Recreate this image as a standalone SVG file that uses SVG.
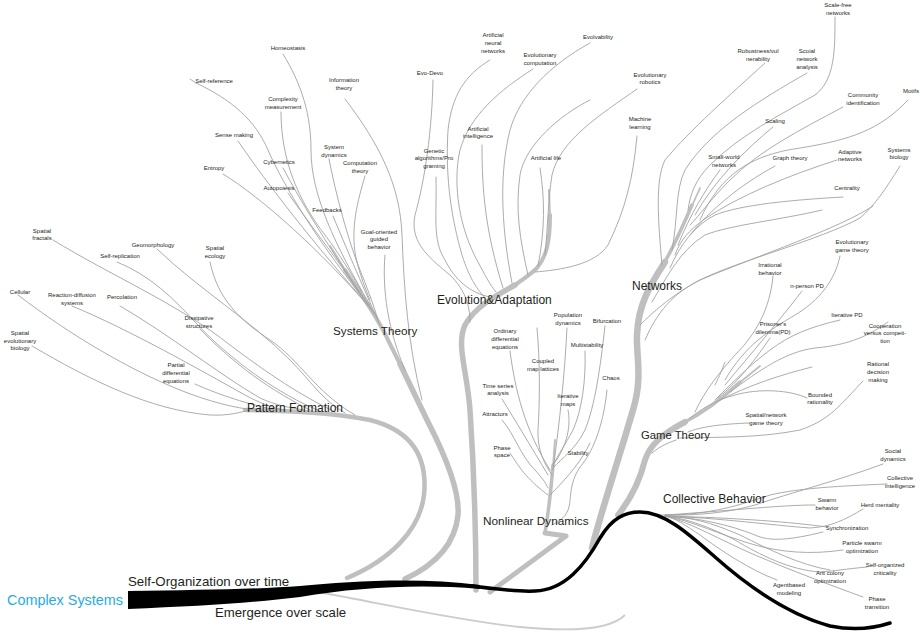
<svg xmlns="http://www.w3.org/2000/svg" width="920" height="633" viewBox="0 0 920 633">
<style>
text{font-family:"Liberation Sans",Arial,sans-serif;fill:#231f20}
.s{font-size:6px;text-anchor:middle}
.b{font-size:12px}
.leaf{fill:none;stroke:#a3a3a3;stroke-width:0.9;stroke-linecap:round}
.br{fill:none;stroke:#bfbfbf;stroke-linecap:round;stroke-linejoin:round}
</style>
<rect width="920" height="633" fill="#fff"/>
<g id="connectors">
<path d="M318,592 C 390,605 455,620 520,627 C 570,632 610,630 625,615" fill="none" stroke="#cccccc" stroke-width="1.8"/>
<path class="br" stroke-width="4.5" d="M347,578 C 390,560 420,530 424,495 C 428,455 410,430 370,420 C 330,412 285,411 245,410"/>
<path class="br" stroke-width="5.5" d="M405,579 C 435,565 455,545 458,515 C 460,490 445,455 428,422 L 400,364"/>
<path class="br" stroke-width="4" d="M402,368 L 388,340 C 378,318 362,296 345,270"/>
<path class="br" stroke-width="2" d="M348,275 C 342,265 336,255 330,246"/>
<path class="br" stroke-width="5.5" d="M476,590 C 476,530 474,470 470,410 C 467,370 456,345 465,325 C 475,307 495,296 515,285"/>
<path class="br" stroke-width="4" d="M512,287 C 522,280 530,275 537,268 C 547,256 550,240 550,215"/>
<path class="br" stroke-width="2" d="M550,218 L 549,190"/>
<path class="br" stroke-width="5" d="M490,592 L 566,536 L 545,533"/>
<path class="br" stroke-width="3.5" d="M545,533 C 548,515 551,490 553,465"/>
<path class="br" stroke-width="2" d="M553,468 L 555,440"/>
<path class="br" stroke-width="6.5" d="M592,548 C 600,515 620,455 633,410 C 643,378 636,355 637,335 C 638,305 650,285 665,262"/>
<path class="br" stroke-width="3.5" d="M663,265 C 672,250 682,228 692,205"/>
<path class="br" stroke-width="1.8" d="M691,208 L 700,188"/>
<path class="br" stroke-width="6" d="M618,515 C 630,500 640,480 645,460 C 650,445 662,434 685,422"/>
<path class="br" stroke-width="3.5" d="M683,423 C 705,412 725,396 740,382"/>
<path class="br" stroke-width="1.8" d="M738,384 L 760,366"/>
<path class="leaf" d="M283,54 C 302,85 311,115 311,150 C 311,195 335,245 370,305"/>
<path class="leaf" d="M190,79 L196,83 C 232,100 255,120 268,150 C 283,185 320,245 365,300"/>
<path class="leaf" d="M281,112 C 281,160 298,200 325,235 C 340,255 352,275 362,292"/>
<path class="leaf" d="M238,141 C 268,185 315,245 368,305"/>
<path class="leaf" d="M283,168 C 300,200 330,250 372,310"/>
<path class="leaf" d="M223,174 C 262,198 320,250 370,308"/>
<path class="leaf" d="M288,193 C 310,225 342,265 375,315"/>
<path class="leaf" d="M329,159 C 336,195 348,240 360,270 C 366,285 372,300 378,320"/>
<path class="leaf" d="M365,176 C 358,200 350,228 356,258 C 360,275 365,288 370,300"/>
<path class="leaf" d="M333,216 C 345,245 360,280 380,325"/>
<path class="leaf" d="M345,99 C 380,145 400,185 402,235 C 404,290 408,345 422,400"/>
<path class="leaf" d="M385,255 C 382,290 388,330 405,370"/>
<path class="leaf" d="M53,240 C 110,275 180,305 230,345 C 270,375 300,395 335,412"/>
<path class="leaf" d="M157,249 C 200,290 250,320 290,360 C 310,380 322,400 345,413"/>
<path class="leaf" d="M117,262 C 150,275 175,300 195,322 C 230,360 280,395 320,411"/>
<path class="leaf" d="M210,262 C 218,300 240,320 270,340 C 300,360 315,392 355,415"/>
<path class="leaf" d="M18,295 C 70,335 130,370 180,390 C 210,402 235,408 255,410"/>
<path class="leaf" d="M72,306 C 130,330 200,370 245,395 C 260,403 272,408 285,410"/>
<path class="leaf" d="M120,306 C 170,335 220,375 260,398 C 275,405 290,408 305,410"/>
<path class="leaf" d="M200,329 C 225,355 260,385 310,410"/>
<path class="leaf" d="M32,346 C 90,380 150,410 210,415 C 230,416 240,412 250,410"/>
<path class="leaf" d="M195,384 C 215,393 240,402 275,410"/>
<path class="leaf" d="M433,80 C 432,130 425,180 415,215 C 410,240 425,255 450,275 C 465,290 470,305 470,322"/>
<path class="leaf" d="M490,60 C 465,75 452,95 448,130 C 445,180 452,220 462,255 C 470,280 478,290 485,298"/>
<path class="leaf" d="M533,69 C 500,90 470,115 460,150 C 452,185 460,230 478,262 C 485,275 490,285 496,292"/>
<path class="leaf" d="M590,43 C 550,65 520,95 510,130 C 500,170 500,220 512,283"/>
<path class="leaf" d="M482,145 C 482,190 485,230 503,288"/>
<path class="leaf" d="M436,177 C 437,215 432,240 445,260 C 455,280 470,293 490,297"/>
<path class="leaf" d="M590,100 C 560,115 525,145 520,175 C 515,210 520,240 528,275"/>
<path class="leaf" d="M637,89 C 600,115 560,140 552,175 C 548,200 548,225 545,255"/>
<path class="leaf" d="M540,168 C 545,200 545,230 538,266"/>
<path class="leaf" d="M637,136 C 633,180 625,210 608,245 C 595,265 560,270 535,272"/>
<path class="leaf" d="M835,17 C 835,50 835,80 815,95 C 780,115 740,135 710,165 C 695,180 690,195 688,210"/>
<path class="leaf" d="M765,63 C 730,95 690,130 665,160 C 655,180 658,220 662,265"/>
<path class="leaf" d="M807,73 C 760,100 710,130 685,170 C 675,190 678,220 672,250"/>
<path class="leaf" d="M843,107 C 800,130 760,150 730,180 C 710,200 700,215 690,225"/>
<path class="leaf" d="M908,100 C 880,130 850,140 800,148 C 750,155 720,175 700,220"/>
<path class="leaf" d="M773,127 C 745,150 715,180 695,215"/>
<path class="leaf" d="M720,170 C 705,190 690,215 678,245"/>
<path class="leaf" d="M775,166 C 740,185 710,210 690,235"/>
<path class="leaf" d="M837,160 C 790,175 740,195 703,220 C 690,230 680,240 675,255"/>
<path class="leaf" d="M843,197 C 790,200 740,205 715,215 C 695,225 680,245 670,268"/>
<path class="leaf" d="M822,210 C 780,220 730,225 705,235 C 680,250 665,280 652,302"/>
<path class="leaf" d="M900,166 C 885,190 875,205 860,218 C 820,240 740,260 700,280 C 675,293 655,310 640,325"/>
<path class="leaf" d="M873,206 C 840,228 760,255 700,280 C 680,290 660,305 645,340"/>
<path class="leaf" d="M840,256 C 835,280 820,300 795,315 C 770,330 745,345 725,380"/>
<path class="leaf" d="M773,276 C 770,310 755,335 735,355 C 720,372 705,390 695,412"/>
<path class="leaf" d="M802,291 C 780,320 750,355 725,385"/>
<path class="leaf" d="M770,338 C 755,360 740,380 718,398"/>
<path class="leaf" d="M840,320 C 810,327 790,335 770,350 C 750,365 735,380 715,400"/>
<path class="leaf" d="M888,322 C 870,335 850,345 815,348 C 785,352 760,370 730,392"/>
<path class="leaf" d="M812,367 C 780,375 750,385 720,400"/>
<path class="leaf" d="M863,381 C 840,405 830,420 800,430 C 760,438 720,437 680,438"/>
<path class="leaf" d="M807,398 C 790,390 760,388 735,395 C 715,400 700,410 690,418"/>
<path class="leaf" d="M750,423 C 720,424 700,427 688,432"/>
<path class="leaf" d="M652,453 C 660,446 668,443 676,440"/>
<path class="leaf" d="M715,385 C 720,375 722,370 725,362"/>
<path class="leaf" d="M883,464 C 840,480 790,493 755,505 C 730,512 700,516 660,515"/>
<path class="leaf" d="M887,484 C 840,486 800,488 770,495 C 740,505 710,515 665,515"/>
<path class="leaf" d="M815,505 C 780,505 740,510 665,515"/>
<path class="leaf" d="M863,509 C 845,520 830,527 810,528 C 770,525 720,518 665,516"/>
<path class="leaf" d="M827,527 C 790,522 740,518 665,516"/>
<path class="leaf" d="M823,532 C 790,540 770,542 755,535 C 730,525 700,518 665,516"/>
<path class="leaf" d="M843,550 C 810,555 780,552 755,545 C 720,535 690,520 665,516"/>
<path class="leaf" d="M867,567 C 845,569 835,571 820,572 C 790,570 760,555 735,540 C 710,527 685,518 665,516"/>
<path class="leaf" d="M830,570 C 800,565 770,550 740,535 C 710,522 690,517 665,516"/>
<path class="leaf" d="M777,580 C 750,570 720,550 700,535 C 685,525 675,518 665,516"/>
<path class="leaf" d="M863,597 C 830,585 790,570 755,555 C 720,540 690,522 665,516"/>
<path class="leaf" d="M567,328 C 565,370 560,420 553,470"/>
<path class="leaf" d="M605,326 C 600,370 595,405 585,430 C 575,450 562,458 553,468"/>
<path class="leaf" d="M510,351 C 515,390 525,430 550,470"/>
<path class="leaf" d="M585,351 C 586,380 582,410 573,430 C 565,445 558,455 553,465"/>
<path class="leaf" d="M537,328 C 540,360 540,400 538,430 C 537,450 545,465 552,475"/>
<path class="leaf" d="M607,390 C 604,420 595,450 580,467 C 568,485 572,500 568,510 C 565,518 558,522 552,525"/>
<path class="leaf" d="M502,399 C 515,420 530,445 548,475"/>
<path class="leaf" d="M568,410 C 571,425 568,445 553,465"/>
<path class="leaf" d="M502,420 C 515,435 520,455 535,470 C 542,478 546,483 548,488"/>
<path class="leaf" d="M510,453 C 518,465 525,478 548,495"/>
<path class="leaf" d="M590,443 C 582,460 570,475 550,495"/>
<path d="M128,591 C 200,590 260,589 300,586 C 350,581 420,577 480,585 L 480,589 C 420,584 360,587 300,597 C 250,603 200,606 128,609 Z" fill="#000"/>
<path d="M472,586 C 495,589 515,592 535,591 C 565,590 585,565 600,538 C 612,518 625,512 640,512 C 665,512 690,535 715,557 C 750,588 790,615 830,626 C 855,631 875,628 890,623" fill="none" stroke="#000" stroke-width="3.5" stroke-linecap="round"/>
</g>
<g id="complex-systems"><text x="7" y="605" style="font-size:14.4px;fill:#29abe2">Complex Systems</text></g>
<g id="self-organization"><text x="128" y="586" style="font-size:13.3px">Self-Organization over time</text></g>
<g id="emergence"><text x="215" y="617" style="font-size:13.2px">Emergence over scale</text></g>
<g id="pattern-formation"><text class="b" x="247" y="412">Pattern Formation</text></g>
<g id="systems-theory"><text class="b" x="333" y="335" style="font-size:11.7px">Systems Theory</text></g>
<g id="evolution-adaptation"><text class="b" x="437" y="304">Evolution&amp;Adaptation</text></g>
<g id="networks"><text class="b" x="632" y="290">Networks</text></g>
<g id="game-theory"><text class="b" x="641" y="439" style="font-size:11.3px">Game Theory</text></g>
<g id="collective-behavior"><text class="b" x="663" y="503">Collective Behavior</text></g>
<g id="nonlinear-dynamics"><text class="b" x="483" y="525" style="font-size:11.8px">Nonlinear Dynamics</text></g>
<g id="homeostasis"><text class="s" x="288" y="50">Homeostasis</text></g>
<g id="self-reference"><text class="s" x="214" y="83">Self-reference</text></g>
<g id="complexity-measurement"><text class="s" x="283" y="101">Complexity</text><text class="s" x="283" y="109">measurement</text></g>
<g id="sense-making"><text class="s" x="234" y="137">Sense making</text></g>
<g id="cybernetics"><text class="s" x="279" y="164">Cybernetics</text></g>
<g id="entropy"><text class="s" x="214" y="170">Entropy</text></g>
<g id="autopoiesis"><text class="s" x="279" y="190">Autopoiesis</text></g>
<g id="information-theory"><text class="s" x="344" y="82">Information</text><text class="s" x="344" y="90">theory</text></g>
<g id="system-dynamics"><text class="s" x="334" y="149">System</text><text class="s" x="334" y="157">dynamics</text></g>
<g id="computation-theory"><text class="s" x="360" y="165">Computation</text><text class="s" x="360" y="173">theory</text></g>
<g id="feedbacks"><text class="s" x="327" y="212">Feedbacks</text></g>
<g id="goal-oriented"><text class="s" x="379" y="234">Goal-oriented</text><text class="s" x="379" y="241">guided</text><text class="s" x="379" y="249">behavior</text></g>
<g id="evo-devo"><text class="s" x="430" y="75">Evo-Devo</text></g>
<g id="ann"><text class="s" x="493" y="37">Artificial</text><text class="s" x="493" y="45">neural</text><text class="s" x="493" y="53">networks</text></g>
<g id="evolutionary-computation"><text class="s" x="540" y="57">Evolutionary</text><text class="s" x="540" y="65">computation</text></g>
<g id="evolvability"><text class="s" x="598" y="39">Evolvability</text></g>
<g id="artificial-intelligence"><text class="s" x="478" y="131">Artificial</text><text class="s" x="478" y="138">intelligence</text></g>
<g id="genetic-algorithms"><text class="s" x="434" y="153">Genetic</text><text class="s" x="434" y="160">algorithms/Pro</text><text class="s" x="434" y="168">graming</text></g>
<g id="artificial-life"><text class="s" x="546" y="160">Artificial life</text></g>
<g id="evolutionary-robotics"><text class="s" x="650" y="77">Evolutionary</text><text class="s" x="650" y="84">robotics</text></g>
<g id="machine-learning"><text class="s" x="640" y="121">Machine</text><text class="s" x="640" y="129">learning</text></g>
<g id="scale-free"><text class="s" x="838" y="7">Scale-free</text><text class="s" x="838" y="15">networks</text></g>
<g id="robustness"><text class="s" x="758" y="53">Robustness/vul</text><text class="s" x="758" y="61">nerability</text></g>
<g id="social-network"><text class="s" x="807" y="53">Scoial</text><text class="s" x="807" y="61">network</text><text class="s" x="807" y="69">analysis</text></g>
<g id="community"><text class="s" x="863" y="97">Community</text><text class="s" x="863" y="105">identification</text></g>
<g id="motifs"><text class="s" x="911" y="93">Motifs</text></g>
<g id="scaling"><text class="s" x="775" y="123">Scaling</text></g>
<g id="small-world"><text class="s" x="724" y="159">Small-world</text><text class="s" x="724" y="167">networks</text></g>
<g id="graph-theory"><text class="s" x="790" y="160">Graph theory</text></g>
<g id="adaptive-networks"><text class="s" x="850" y="154">Adaptive</text><text class="s" x="850" y="161">networks</text></g>
<g id="systems-biology"><text class="s" x="899" y="152">Systems</text><text class="s" x="899" y="159">biology</text></g>
<g id="centrality"><text class="s" x="847" y="190">Centrality</text></g>
<g id="evolutionary-game-theory"><text class="s" x="852" y="244">Evolutionary</text><text class="s" x="852" y="252">game theory</text></g>
<g id="irrational-behavior"><text class="s" x="770" y="267">Irrational</text><text class="s" x="770" y="275">behavior</text></g>
<g id="n-person-pd"><text class="s" x="807" y="288">n-person PD</text></g>
<g id="prisoners-dilemma"><text class="s" x="773" y="326">Prisoner's</text><text class="s" x="773" y="334">dilemma(PD)</text></g>
<g id="iterative-pd"><text class="s" x="847" y="317">Iterative PD</text></g>
<g id="cooperation"><text class="s" x="885" y="328">Cooperation</text><text class="s" x="885" y="335">versus competi-</text><text class="s" x="885" y="343">tion</text></g>
<g id="rational-decision"><text class="s" x="878" y="366">Rational</text><text class="s" x="878" y="374">decision</text><text class="s" x="878" y="382">making</text></g>
<g id="bounded-rationality"><text class="s" x="820" y="397">Bounded</text><text class="s" x="820" y="404">rationality</text></g>
<g id="spatial-game-theory"><text class="s" x="766" y="417">Spatial/network</text><text class="s" x="766" y="425">game theory</text></g>
<g id="social-dynamics"><text class="s" x="893" y="453">Social</text><text class="s" x="893" y="461">dynamics</text></g>
<g id="collective-intelligence"><text class="s" x="900" y="480">Collective</text><text class="s" x="900" y="488">intelligence</text></g>
<g id="swarm-behavior"><text class="s" x="827" y="502">Swarm</text><text class="s" x="827" y="510">behavior</text></g>
<g id="herd-mentality"><text class="s" x="880" y="507">Herd mentality</text></g>
<g id="synchronization"><text class="s" x="847" y="530">Synchronization</text></g>
<g id="particle-swarm"><text class="s" x="862" y="545">Particle swarm</text><text class="s" x="862" y="553">optimization</text></g>
<g id="soc"><text class="s" x="885" y="567">Self-organized</text><text class="s" x="885" y="575">criticality</text></g>
<g id="ant-colony"><text class="s" x="830" y="575">Ant colony</text><text class="s" x="830" y="583">optimization</text></g>
<g id="agent-based"><text class="s" x="789" y="587">Agentbased</text><text class="s" x="789" y="595">modeling</text></g>
<g id="phase-transition"><text class="s" x="877" y="601">Phase</text><text class="s" x="877" y="609">transition</text></g>
<g id="spatial-fractals"><text class="s" x="42" y="233">Spatial</text><text class="s" x="42" y="240">fractals</text></g>
<g id="geomorphology"><text class="s" x="153" y="247">Geomorphology</text></g>
<g id="self-replication"><text class="s" x="120" y="258">Self-replication</text></g>
<g id="spatial-ecology"><text class="s" x="215" y="250">Spatial</text><text class="s" x="215" y="258">ecology</text></g>
<g id="cellular"><text class="s" x="20" y="294">Cellular</text></g>
<g id="reaction-diffusion"><text class="s" x="72" y="297">Reaction-diffusion</text><text class="s" x="72" y="305">systems</text></g>
<g id="percolation"><text class="s" x="122" y="299">Percolation</text></g>
<g id="dissipative"><text class="s" x="199" y="320">Dissipative</text><text class="s" x="199" y="328">structures</text></g>
<g id="spatial-evo-bio"><text class="s" x="20" y="335">Spatial</text><text class="s" x="20" y="343">evolutionary</text><text class="s" x="20" y="350">biology</text></g>
<g id="pde"><text class="s" x="176" y="367">Partial</text><text class="s" x="176" y="375">differential</text><text class="s" x="176" y="383">equations</text></g>
<g id="population-dynamics"><text class="s" x="568" y="317">Population</text><text class="s" x="568" y="325">dynamics</text></g>
<g id="bifurcation"><text class="s" x="607" y="323">Bifurcation</text></g>
<g id="ode"><text class="s" x="505" y="333">Ordinary</text><text class="s" x="505" y="341">differential</text><text class="s" x="505" y="349">equations</text></g>
<g id="multistability"><text class="s" x="587" y="347">Multistability</text></g>
<g id="coupled-map"><text class="s" x="543" y="363">Coupled</text><text class="s" x="543" y="371">map lattices</text></g>
<g id="chaos"><text class="s" x="611" y="380">Chaos</text></g>
<g id="time-series"><text class="s" x="498" y="388">Time series</text><text class="s" x="498" y="395">analysis</text></g>
<g id="iterative-maps"><text class="s" x="568" y="398">Iterative</text><text class="s" x="568" y="406">maps</text></g>
<g id="attractors"><text class="s" x="495" y="416">Attractors</text></g>
<g id="phase-space"><text class="s" x="502" y="450">Phase</text><text class="s" x="502" y="457">space</text></g>
<g id="stability"><text class="s" x="578" y="455">Stability</text></g>
</svg>
